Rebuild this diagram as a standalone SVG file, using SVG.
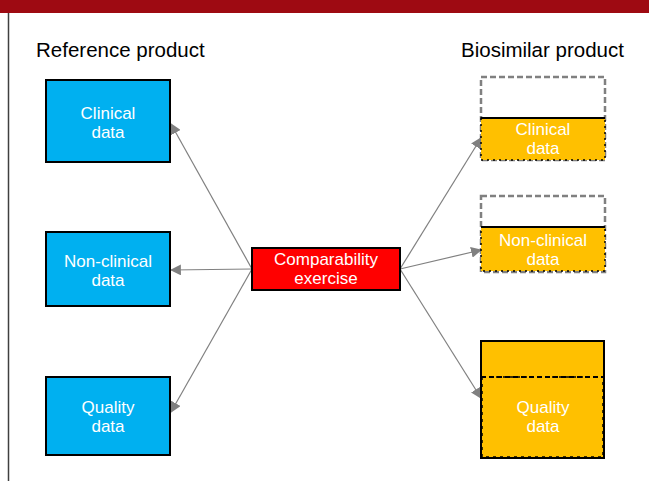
<svg xmlns="http://www.w3.org/2000/svg" width="649" height="481" viewBox="0 0 649 481">
  <defs>
    <marker id="arrow" viewBox="0 0 10 10" refX="9" refY="5" markerWidth="11" markerHeight="11" markerUnits="userSpaceOnUse" orient="auto">
      <path d="M0,0 L10,5 L0,10 z" fill="#808080"/>
    </marker>
  </defs>
  <style>
    .title { font-family: "Liberation Sans", Arial, sans-serif; font-size: 20.5px; fill: #000; }
    .lbl { font-family: "Liberation Sans", Arial, sans-serif; font-size: 17px; fill: #fff; text-anchor: middle; }
    .ref { fill: #00B0F0; stroke: #000; stroke-width: 2; }
    .bio { fill: #FFC000; stroke: none; }
    .ghost { fill: #fff; stroke: #808080; stroke-width: 2.5; stroke-dasharray: 6 3; }
    .edge { stroke: #808080; stroke-width: 1.2; fill: none; marker-end: url(#arrow); }
  </style>
  <rect width="649" height="481" fill="#fff"/>
  <!-- header band and left rule -->
  <rect x="0" y="0" width="649" height="13" fill="#9E0A12"/>
  <line x1="8.5" y1="13" x2="8.5" y2="481" stroke="#404040" stroke-width="1.5"/>

  <text class="title" x="36" y="57">Reference product</text>
  <text class="title" x="461" y="57">Biosimilar product</text>

  <g id="connectors">
    <line class="edge" x1="252" y1="269" x2="171" y2="124"/>
    <line class="edge" x1="252" y1="269" x2="171" y2="270"/>
    <line class="edge" x1="252" y1="269" x2="171" y2="412"/>
    <line class="edge" x1="400" y1="269" x2="481" y2="138"/>
    <line class="edge" x1="400" y1="269" x2="481" y2="250"/>
    <line class="edge" x1="400" y1="269" x2="481" y2="398"/>
  </g>

  <g id="ref-clinical">
    <rect class="ref" x="46" y="80" width="124" height="82"/>
    <text class="lbl" x="108" y="119">Clinical</text>
    <text class="lbl" x="108" y="138">data</text>
  </g>
  <g id="ref-nonclinical">
    <rect class="ref" x="46" y="232" width="124" height="74"/>
    <text class="lbl" x="108" y="267">Non-clinical</text>
    <text class="lbl" x="108" y="286">data</text>
  </g>
  <g id="ref-quality">
    <rect class="ref" x="46" y="377" width="124" height="78"/>
    <text class="lbl" x="108" y="413">Quality</text>
    <text class="lbl" x="108" y="432">data</text>
  </g>

  <g id="comparability">
    <rect x="252" y="248" width="148" height="42" fill="#FF0000" stroke="#000" stroke-width="2"/>
    <text class="lbl" x="326" y="265">Comparability</text>
    <text class="lbl" x="326" y="284">exercise</text>
  </g>

  <g id="bio-clinical">
    <rect class="ghost" x="481" y="77" width="124" height="83"/>
    <rect class="bio" x="481" y="118" width="124" height="42"/>
    <line x1="481" y1="118" x2="605" y2="118" stroke="#000" stroke-width="2"/>
    <rect x="481" y="118" width="124" height="42" fill="none" stroke="#000" stroke-width="1.5" stroke-dasharray="2 4"/>
    <text class="lbl" x="543" y="135">Clinical</text>
    <text class="lbl" x="543" y="154">data</text>
  </g>
  <g id="bio-nonclinical">
    <rect class="ghost" x="481" y="196" width="124" height="76"/>
    <rect class="bio" x="481" y="227" width="124" height="44"/>
    <line x1="481" y1="227" x2="605" y2="227" stroke="#000" stroke-width="2"/>
    <rect x="481" y="227" width="124" height="44" fill="none" stroke="#000" stroke-width="1.5" stroke-dasharray="2 4"/>
    <text class="lbl" x="543" y="246">Non-clinical</text>
    <text class="lbl" x="543" y="265">data</text>
  </g>
  <g id="bio-quality">
    <rect x="481" y="341" width="123" height="117" fill="#FFC000" stroke="#000" stroke-width="2"/>
    <line x1="481" y1="377" x2="604" y2="377" stroke="#000" stroke-width="2" stroke-dasharray="5 3"/>
    <rect x="482" y="377" width="121" height="80" fill="none" stroke="#000" stroke-width="1.5" stroke-dasharray="3 4"/>
    <text class="lbl" x="543" y="413">Quality</text>
    <text class="lbl" x="543" y="432">data</text>
  </g>
</svg>
